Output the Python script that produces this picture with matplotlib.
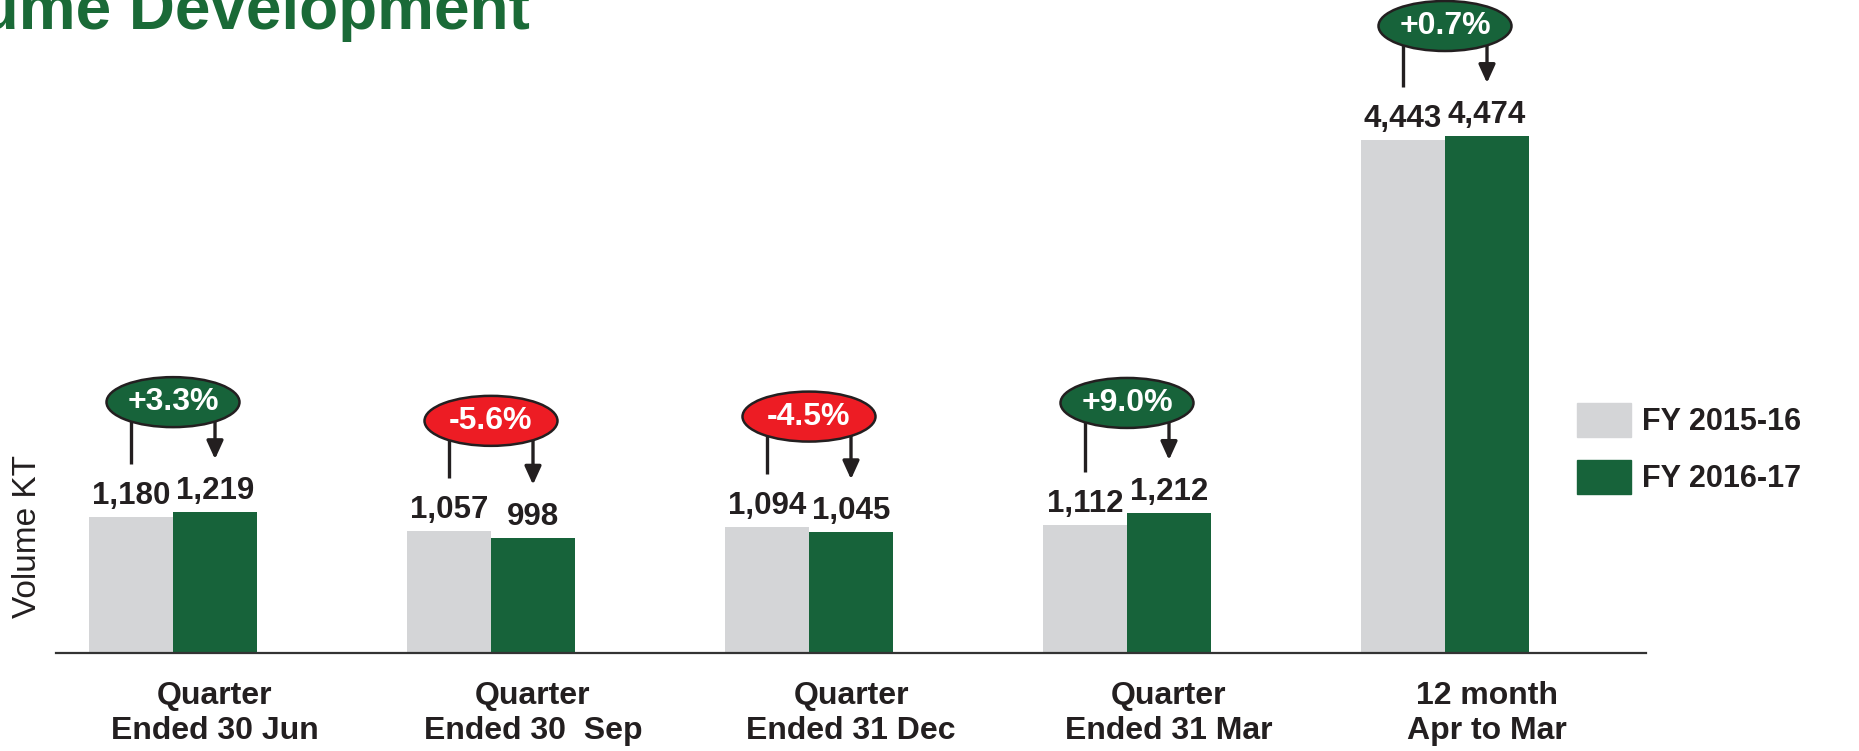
import matplotlib
matplotlib.use("Agg")
from matplotlib import pyplot as plt
from matplotlib.patches import Ellipse, Patch
import numpy as np

plt.rcParams['font.family'] = ['Liberation Sans', 'DejaVu Sans']

# data
categories = ["Quarter\nEnded 30 Jun", "Quarter\nEnded 30  Sep", "Quarter\nEnded 31 Dec",
              "Quarter\nEnded 31 Mar", "12 month\nApr to Mar"]
fy_2015_16 = [1180, 1057, 1094, 1112, 4443]
fy_2016_17 = [1219, 998, 1045, 1212, 4474]
pct_change = ["+3.3%", "-5.6%", "-4.5%", "+9.0%", "+0.7%"]
series_names = ["FY 2015-16", "FY 2016-17"]

GREY = "#D4D5D7"
GREEN = "#17633A"
RED = "#ED1C24"
DARK = "#231F20"

W, H, DPI = 1859, 751, 100
fig = plt.figure(figsize=(W / DPI, H / DPI), dpi=DPI)

# axes placed in pixels: axis line at y=653, x from 56 to 1646
ax = fig.add_axes([56 / W, (H - 653) / H, 1590 / W, 653 / H])
px_per_unit = 517 / 4474.0
ax.set_ylim(0, 653 / px_per_unit)
grp = 318.0
ax.set_xlim((56 - 173) / grp, (1646 - 173) / grp)
ypx = 1 / px_per_unit  # data units per pixel in y

x = np.arange(len(categories))
bw = 84 / grp
off = bw / 2

ax.bar(x - off, fy_2015_16, bw, color=GREY, label=series_names[0])
ax.bar(x + off, fy_2016_17, bw, color=GREEN, label=series_names[1])

for i in range(len(x)):
    a, b = fy_2015_16[i], fy_2016_17[i]
    ax.text(x[i] - off, a + 13 * ypx, f"{a:,}", ha="center", va="baseline",
            fontsize=22.5, fontweight="bold", color=DARK)
    ax.text(x[i] + off, b + 13 * ypx, f"{b:,}", ha="center", va="baseline",
            fontsize=22.5, fontweight="bold", color=DARK)

    cy = max(a, b) + 110 * ypx
    # connector from old bar and arrow to new bar
    ax.plot([x[i] - off, x[i] - off], [cy, a + 53 * ypx], color=DARK, lw=2.4,
            solid_capstyle="butt", zorder=3, clip_on=False)
    ax.annotate("", xy=(x[i] + off, b + 53 * ypx), xytext=(x[i] + off, cy),
                arrowprops=dict(arrowstyle="-|>,head_length=1.1,head_width=0.5",
                                color=DARK, lw=2.4, shrinkA=0, shrinkB=0),
                zorder=3, annotation_clip=False)
    fc = RED if pct_change[i].startswith("-") else GREEN
    ax.add_patch(Ellipse((x[i], cy), 133 / grp, 50 * ypx, facecolor=fc,
                         edgecolor=DARK, lw=1.8, zorder=4, clip_on=False))
    ax.text(x[i], cy, pct_change[i], ha="center", va="center", fontsize=23,
            fontweight="bold", color="white", zorder=5)

ax.set_xticks(x + off, categories, fontsize=23, fontweight="bold", color=DARK,
              linespacing=1.22)
ax.tick_params(axis="x", length=0, pad=20)
ax.set_yticks([])
for s in ["top", "right", "left"]:
    ax.spines[s].set_visible(False)
ax.spines["bottom"].set_color("#333333")
ax.spines["bottom"].set_linewidth(1.6)

ax.set_ylabel("Volume KT", fontsize=24, color=DARK, va="center", ha="center")
ax.yaxis.set_label_coords((28 - 56) / 1590, (653 - 536) / 653)

handles = [Patch(color=GREY), Patch(color=GREEN)]
fig.legend(handles, series_names, loc="upper left",
           bbox_to_anchor=(1577 / W, (H - 403) / H), frameon=False,
           prop=dict(weight="bold", size=22),
           handlelength=1.77, handleheight=1.31, labelspacing=0.76,
           handletextpad=0.36, borderpad=0, borderaxespad=0)
for t in fig.legends[0].get_texts():
    t.set_color(DARK)

fig.text(530 / W, (H - 29) / H, "Volume Development", ha="right", va="baseline",
         fontsize=46, fontweight="bold", color="#1A6A37")

fig.savefig("out.png", dpi=DPI)
